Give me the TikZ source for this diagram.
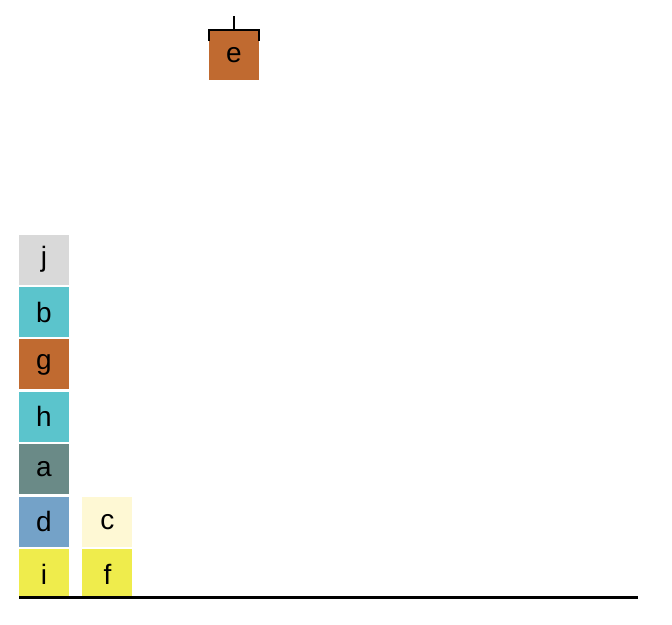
\documentclass[tikz,border=0pt]{standalone}
\usepackage{fontspec}
\setmainfont{Liberation Sans}
\usetikzlibrary{positioning}

\definecolor{greyj}{HTML}{D9D9D9}
\definecolor{tealb}{HTML}{5BC4CC}
\definecolor{rust}{HTML}{C06A30}
\definecolor{slatea}{HTML}{6A8A87}
\definecolor{blued}{HTML}{74A2C8}
\definecolor{yellowi}{HTML}{EFEC4C}
\definecolor{creamc}{HTML}{FEF8D4}

\begin{document}
\begin{tikzpicture}[x=1pt,y=-1pt,node distance=2pt,
  block/.style={rectangle,minimum width=50pt,minimum height=50pt,inner sep=0pt,
    font=\fontsize{28}{30}\selectfont}]

  \useasboundingbox (0,0) rectangle (672,624);

  % first column
  \node[block,fill=yellowi] (i) at (44,574) {i};
  \node[block,fill=blued] (d) [above=of i] {d};
  \node[block,fill=slatea] (a) [above=of d] {a};
  \node[block,fill=tealb] (h) [above=of a] {h};
  \node[block,fill=rust] (g) [above=of h] {g};
  \node[block,fill=tealb] (b) [above=of g] {b};
  \node[block,fill=greyj] (j) [above=of b] {j};

  % second column
  \node[block,fill=yellowi] (f) [right=13pt of i] {f};
  \node[block,fill=creamc] (c) [above=of f] {c};

  % lifted block
  \node[block,fill=rust] (e) at (234,55) {e};
  \coordinate (hook) at (234,16);
  \draw[line width=2pt] ([yshift=-11pt]e.north west) -- (e.north west)
    -- (e.north east) -- ([yshift=-11pt]e.north east);
  \draw[line width=2pt] (e.north) -- (hook);

  % ground
  \coordinate (gl) at (19,597.5);
  \coordinate (gr) at (638,597.5);
  \draw[line width=3pt] (gl) -- (gr);

\end{tikzpicture}
\end{document}
